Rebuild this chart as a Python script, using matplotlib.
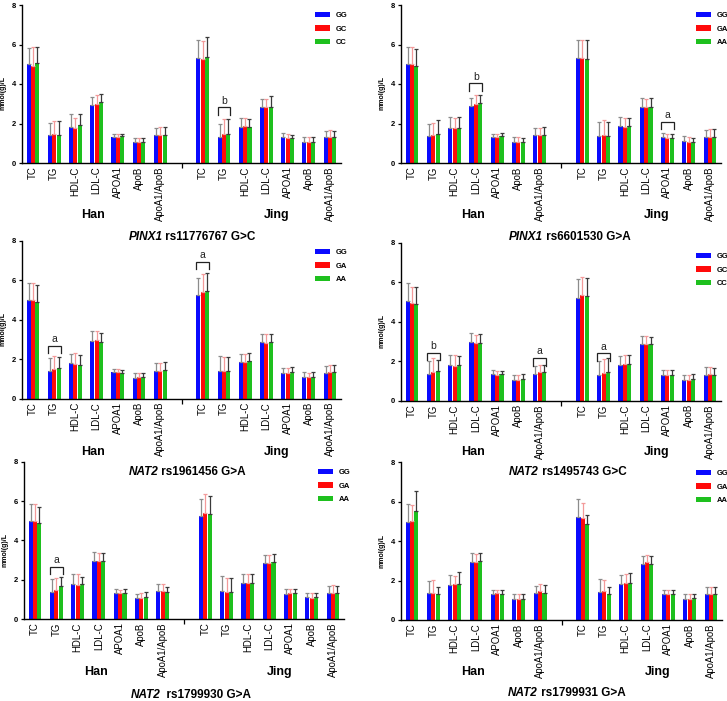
import matplotlib
matplotlib.use("Agg")
import matplotlib.pyplot as plt
import matplotlib.transforms as mtransforms
from matplotlib.patches import Patch
import numpy as np

plt.rcParams['font.family'] = ['Liberation Sans', 'DejaVu Sans']

# ---------------- data ----------------
categories = ['TC', 'TG', 'HDL-C', 'LDL-C', 'APOA1', 'ApoB', 'ApoA1/ApoB']
populations = ['Han', 'Jing']

# panel 1: PINX1 rs11776767 G>C
genes1 = ('PINX1', 'rs11776767 G>C')
geno1 = ['GG', 'GC', 'CC']
m1_b = [5.00, 1.41, 1.80, 2.93, 1.34, 1.07, 1.41, 5.32, 1.34, 1.83, 2.85, 1.31, 1.05, 1.31]
sd1_b = [0.81, 0.62, 0.67, 0.39, 0.15, 0.22, 0.37, 0.90, 0.66, 0.47, 0.39, 0.23, 0.27, 0.33]
m1_r = [4.93, 1.46, 1.75, 2.98, 1.34, 1.05, 1.42, 5.29, 1.46, 1.85, 2.85, 1.29, 1.08, 1.32]
sd1_r = [0.93, 0.66, 0.55, 0.44, 0.15, 0.24, 0.39, 0.88, 0.76, 0.42, 0.39, 0.20, 0.24, 0.37]
m1_g = [5.05, 1.44, 1.92, 3.08, 1.36, 1.07, 1.41, 5.39, 1.46, 1.80, 2.85, 1.25, 1.07, 1.31]
sd1_g = [0.81, 0.68, 0.55, 0.39, 0.13, 0.22, 0.39, 1.00, 0.76, 0.45, 0.52, 0.19, 0.24, 0.33]
sig1 = [(9, 2.82, 'b')]

# panel 2: PINX1 rs6601530 G>A
genes2 = ('PINX1', 'rs6601530 G>A')
geno2 = ['GG', 'GA', 'AA']
m2_b = [5.00, 1.39, 1.78, 2.88, 1.34, 1.07, 1.41, 5.34, 1.37, 1.85, 2.86, 1.34, 1.10, 1.31]
sd2_b = [0.88, 0.61, 0.54, 0.39, 0.15, 0.23, 0.35, 0.90, 0.70, 0.47, 0.41, 0.20, 0.26, 0.35]
m2_r = [5.00, 1.42, 1.75, 2.98, 1.34, 1.07, 1.41, 5.31, 1.41, 1.81, 2.85, 1.29, 1.08, 1.32]
sd2_r = [0.88, 0.63, 0.52, 0.46, 0.15, 0.23, 0.35, 0.93, 0.76, 0.46, 0.39, 0.20, 0.24, 0.41]
m2_g = [4.90, 1.46, 1.78, 3.03, 1.36, 1.05, 1.44, 5.29, 1.37, 1.85, 2.83, 1.27, 1.05, 1.32]
sd2_g = [0.86, 0.71, 0.54, 0.41, 0.18, 0.24, 0.39, 0.95, 0.73, 0.42, 0.44, 0.22, 0.24, 0.41]
sig2 = [(3, 4.03, 'b'), (12, 2.08, 'a')]

# panel 3: NAT2 rs1961456 G>A
genes3 = ('NAT2', 'rs1961456 G>A')
geno3 = ['GG', 'GA', 'AA']
m3_b = [4.97, 1.37, 1.79, 2.94, 1.34, 1.05, 1.39, 5.25, 1.39, 1.84, 2.88, 1.30, 1.10, 1.29]
sd3_b = [0.88, 0.68, 0.49, 0.46, 0.18, 0.22, 0.39, 0.86, 0.76, 0.44, 0.39, 0.24, 0.24, 0.35]
m3_r = [5.00, 1.49, 1.76, 2.96, 1.32, 1.07, 1.40, 5.38, 1.37, 1.83, 2.81, 1.30, 1.07, 1.32]
sd3_r = [0.85, 0.66, 0.57, 0.44, 0.17, 0.23, 0.38, 0.93, 0.73, 0.42, 0.46, 0.24, 0.23, 0.37]
m3_g = [4.87, 1.56, 1.72, 2.86, 1.29, 1.07, 1.42, 5.45, 1.40, 1.90, 2.86, 1.34, 1.08, 1.34]
sd3_g = [0.88, 0.56, 0.48, 0.46, 0.18, 0.23, 0.41, 0.93, 0.70, 0.43, 0.41, 0.25, 0.24, 0.35]
sig3 = [(1, 2.67, 'a'), (8, 6.94, 'a')]

# panel 4: NAT2 rs1495743 G>C
genes4 = ('NAT2', 'rs1495743 G>C')
geno4 = ['GG', 'GC', 'CC']
m4_b = [5.06, 1.33, 1.81, 2.99, 1.35, 1.06, 1.37, 5.22, 1.28, 1.82, 2.87, 1.32, 1.06, 1.30]
sd4_b = [0.88, 0.66, 0.50, 0.42, 0.19, 0.22, 0.39, 0.94, 0.71, 0.44, 0.40, 0.22, 0.22, 0.40]
m4_r = [4.95, 1.47, 1.74, 2.94, 1.32, 1.06, 1.43, 5.37, 1.38, 1.86, 2.87, 1.32, 1.06, 1.33]
sd4_r = [0.82, 0.69, 0.57, 0.38, 0.17, 0.22, 0.38, 0.88, 0.73, 0.44, 0.40, 0.22, 0.22, 0.39]
m4_g = [4.91, 1.50, 1.79, 2.92, 1.33, 1.08, 1.47, 5.32, 1.43, 1.86, 2.87, 1.32, 1.10, 1.30]
sd4_g = [0.86, 0.56, 0.47, 0.46, 0.16, 0.25, 0.34, 0.87, 0.73, 0.44, 0.37, 0.22, 0.23, 0.37]
sig4 = [(1, 2.43, 'b'), (6, 2.16, 'a'), (9, 2.40, 'a')]

# panel 5: NAT2 rs1799930 G>A
genes5 = ('NAT2', ' rs1799930 G>A')
geno5 = ['GG', 'GA', 'AA']
m5_b = [4.98, 1.37, 1.80, 2.97, 1.34, 1.05, 1.42, 5.25, 1.41, 1.85, 2.86, 1.29, 1.10, 1.32]
sd5_b = [0.87, 0.65, 0.49, 0.42, 0.19, 0.24, 0.38, 0.87, 0.76, 0.46, 0.39, 0.22, 0.24, 0.37]
m5_r = [4.98, 1.49, 1.73, 2.93, 1.32, 1.07, 1.44, 5.41, 1.37, 1.85, 2.83, 1.31, 1.08, 1.34]
sd5_r = [0.87, 0.61, 0.56, 0.43, 0.15, 0.25, 0.36, 0.95, 0.71, 0.46, 0.42, 0.23, 0.26, 0.39]
m5_g = [4.90, 1.66, 1.78, 2.95, 1.32, 1.12, 1.39, 5.32, 1.39, 1.85, 2.90, 1.32, 1.10, 1.32]
sd5_g = [0.79, 0.48, 0.36, 0.39, 0.21, 0.27, 0.25, 0.93, 0.69, 0.46, 0.41, 0.19, 0.24, 0.37]
sig5 = [(1, 2.66, 'a')]

# panel 6: NAT2 rs1799931 G>A
genes6 = ('NAT2', 'rs1799931 G>A')
geno6 = ['GG', 'GA', 'AA']
m6_b = [4.97, 1.36, 1.78, 2.95, 1.32, 1.07, 1.39, 5.25, 1.42, 1.83, 2.83, 1.32, 1.08, 1.31]
sd6_b = [0.91, 0.64, 0.51, 0.44, 0.19, 0.24, 0.36, 0.90, 0.66, 0.46, 0.44, 0.22, 0.24, 0.35]
m6_r = [5.00, 1.37, 1.81, 2.95, 1.36, 1.07, 1.46, 5.17, 1.47, 1.88, 2.92, 1.31, 1.08, 1.31]
sd6_r = [0.81, 0.65, 0.43, 0.41, 0.15, 0.24, 0.35, 0.76, 0.56, 0.46, 0.39, 0.20, 0.24, 0.35]
m6_g = [5.51, 1.32, 1.85, 2.97, 1.34, 1.07, 1.39, 4.85, 1.31, 1.86, 2.83, 1.32, 1.10, 1.31]
sd6_g = [1.02, 0.34, 0.57, 0.42, 0.17, 0.23, 0.37, 0.49, 0.35, 0.51, 0.42, 0.20, 0.22, 0.35]
sig6 = []

panels = [
    (genes1, geno1, (m1_b, sd1_b), (m1_r, sd1_r), (m1_g, sd1_g), sig1),
    (genes2, geno2, (m2_b, sd2_b), (m2_r, sd2_r), (m2_g, sd2_g), sig2),
    (genes3, geno3, (m3_b, sd3_b), (m3_r, sd3_r), (m3_g, sd3_g), sig3),
    (genes4, geno4, (m4_b, sd4_b), (m4_r, sd4_r), (m4_g, sd4_g), sig4),
    (genes5, geno5, (m5_b, sd5_b), (m5_r, sd5_r), (m5_g, sd5_g), sig5),
    (genes6, geno6, (m6_b, sd6_b), (m6_r, sd6_r), (m6_g, sd6_g), sig6),
]

# ---------------- layout (pixels) ----------------
W, H = 727, 701
# (x of group 0, x of group 14, y of value 0, y of value 8)
geom = [
    (33, 330, 163, 5),
    (412, 710, 163, 5),
    (33, 330, 398.5, 240.7),
    (412, 710, 400.7, 242.7),
    (35, 333, 619, 461.7),
    (412, 711, 620, 462.3),
]
# title centres
title_pos = [(192, 237), (570, 237), (187, 472), (568, 472), (191, 695), (567, 693)]
pop_label_y = [215, 215, 452, 452, 672, 672]
legend_pos = [(315, 12), (696, 12), (315, 249), (696, 253), (318, 469), (696, 470)]

bar_colors = ['#0a0aff', '#ff0a0a', '#1ec01e']
err_colors = ['#8c8c8c', '#f39a9a', '#3a3a3a']

fig = plt.figure(figsize=(W / 100, H / 100), dpi=100)

xlo, xhi = -0.52, 14.5
pos = np.array(list(range(0, 7)) + list(range(8, 15)))

for i, (genes, geno, bser, rser, gser, sigs) in enumerate(panels):
    x0, x14, y0, y8 = geom[i]
    u = (x14 - x0) / 14.0
    left = x0 + xlo * u
    right = x0 + xhi * u
    ax = fig.add_axes([left / W, 1 - y0 / H, (right - left) / W, (y0 - y8) / H])
    width = 0.19
    offsets = [-0.205, 0.0, 0.205]
    for k, (m, sd) in enumerate([bser, rser, gser]):
        xs = pos + offsets[k]
        ax.bar(xs, m, width=width, color=bar_colors[k], edgecolor='none', zorder=2)
        ax.errorbar(xs, m, yerr=[np.zeros(len(sd)), sd], fmt='none',
                    ecolor=err_colors[k], elinewidth=0.9, capsize=1.3,
                    capthick=0.9, zorder=3)
    ax.set_xlim(xlo, xhi)
    ax.set_ylim(0, 8)
    ax.set_yticks([0, 2, 4, 6, 8])
    ax.set_yticklabels(['0', '2', '4', '6', '8'], fontsize=5.5, fontweight='bold')
    ax.tick_params(axis='y', length=2.5, width=0.9, pad=2)
    ax.set_xticks(pos)
    ax.set_xticklabels(categories * 2, rotation=90, fontsize=6.9)
    ax.tick_params(axis='x', length=0, pad=2.5)
    ax.set_xticks([7], minor=True)
    ax.tick_params(axis='x', which='minor', length=3.5, width=0.9)
    for s in ['top', 'right']:
        ax.spines[s].set_visible(False)
    for s in ['left', 'bottom']:
        ax.spines[s].set_linewidth(1.0)
    ax.set_ylabel('mmol(g)/L', fontsize=5, fontweight='bold')
    ax.yaxis.set_label_coords(-15.5 / (right - left), 0.44)

    # population labels
    trans = mtransforms.blended_transform_factory(ax.transData, fig.transFigure)
    ax.text(2.85, 1 - pop_label_y[i] / H, populations[0], transform=trans,
            ha='center', va='center', fontsize=9, fontweight='bold')
    ax.text(11.5, 1 - pop_label_y[i] / H, populations[1], transform=trans,
            ha='center', va='center', fontsize=9, fontweight='bold')

    # significance brackets
    for (g, lvl, letter) in sigs:
        xa, xb = g - 0.3, g + 0.3
        drop = 0.38
        ax.plot([xa, xa, xb, xb], [lvl - drop, lvl, lvl, lvl - drop],
                color='#222222', lw=0.9, zorder=4, solid_joinstyle='miter')
        ax.text(g, lvl + 0.08, letter, ha='center', va='bottom', fontsize=7.5,
                color='#222222')

    # legend
    handles = [Patch(facecolor=c, edgecolor='none') for c in bar_colors]
    lx, ly = legend_pos[i]
    ax.legend(handles, geno, loc='upper left',
              bbox_to_anchor=(lx / W, 1 - ly / H), bbox_transform=fig.transFigure,
              frameon=False, prop={'size': 5.5, 'weight': 'bold'},
              handlelength=2.0, handleheight=0.7, handletextpad=0.7,
              labelspacing=0.8, borderpad=0, borderaxespad=0)

# titles (italic gene + bold rest), centred
fig.canvas.draw()
renderer = fig.canvas.get_renderer()
for i, (genes, *_rest) in enumerate(panels):
    xc, yc = title_pos[i]
    t1 = fig.text(0, 1 - yc / H, genes[0], fontsize=8.5, fontweight='bold',
                  style='italic', ha='left', va='center')
    t2 = fig.text(0, 1 - yc / H, ' ' + genes[1], fontsize=8.5, fontweight='bold',
                  ha='left', va='center')
    w1 = t1.get_window_extent(renderer).width
    w2 = t2.get_window_extent(renderer).width
    xs = xc - (w1 + w2) / 2.0
    t1.set_x(xs / W)
    t2.set_x((xs + w1) / W)

fig.savefig('out.png', dpi=100)
